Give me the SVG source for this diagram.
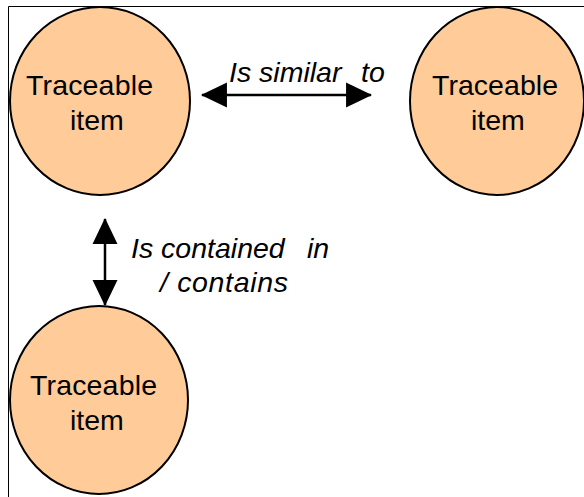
<svg xmlns="http://www.w3.org/2000/svg" width="584" height="497" viewBox="0 0 584 497">
  <defs>
    <style>
      .node { fill: #FFCC99; stroke: #000; stroke-width: 2; }
      .lbl { font-family: "Liberation Sans", Arial, sans-serif; font-size: 28.5px; fill: #000; }
      .edge-lbl { font-family: "Liberation Sans", Arial, sans-serif; font-size: 28.5px; font-style: italic; fill: #000; }
      .edge { stroke: #000; stroke-width: 2.5; fill: none; marker-start: url(#arrow); marker-end: url(#arrow); }
      .frame { stroke: #000; stroke-width: 1; fill: none; }
    </style>
    <marker id="arrow" markerUnits="userSpaceOnUse" markerWidth="26" markerHeight="26" viewBox="0 0 25 24" refX="24" refY="12" orient="auto-start-reverse">
      <path d="M0,0 L25,12 L0,24 Z" fill="#000"/>
    </marker>
  </defs>
  <rect width="584" height="497" fill="#fff"/>
  <g id="frame">
    <polyline class="frame" points="8.5,497 8.5,6.5 584,6.5"/>
  </g>
  <g id="connectors">
    <line class="edge" x1="202" y1="95" x2="371" y2="95"/>
    <text class="edge-lbl" x="229" y="82">Is similar<tspan x="361">to</tspan></text>
    <line class="edge" x1="105" y1="219" x2="105" y2="305"/>
    <text class="edge-lbl" x="131" y="258">Is contained<tspan x="307">in</tspan></text>
    <text class="edge-lbl" x="160" y="292" textLength="128">/ contains</text>
  </g>
  <g id="node1">
    <ellipse class="node" cx="100" cy="101" rx="90" ry="94"/>
    <text class="lbl" x="26" y="95" textLength="127">Traceable</text>
    <text class="lbl" x="70" y="130">item</text>
  </g>
  <g id="node2">
    <ellipse class="node" cx="497" cy="101" rx="87" ry="94"/>
    <text class="lbl" x="432" y="95" textLength="126">Traceable</text>
    <text class="lbl" x="471" y="130">item</text>
  </g>
  <g id="node3">
    <ellipse class="node" cx="99" cy="400" rx="89" ry="94"/>
    <text class="lbl" x="30" y="395" textLength="127">Traceable</text>
    <text class="lbl" x="70" y="430">item</text>
  </g>
</svg>
